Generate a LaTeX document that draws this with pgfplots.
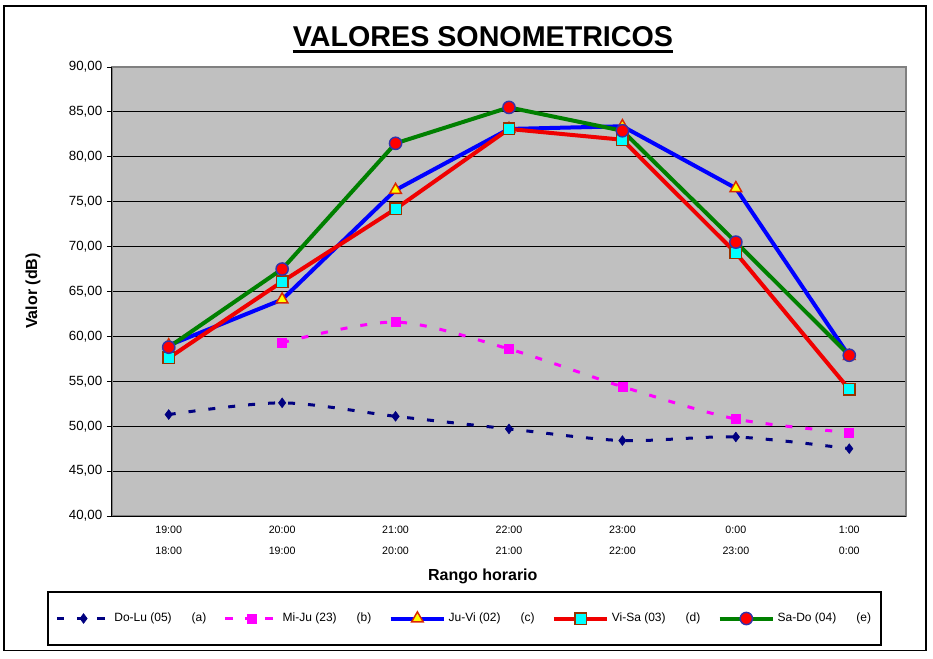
\documentclass[border=0pt]{standalone}
\usepackage{fontspec}
\setmainfont{Liberation Sans}
\usepackage{pgfplots}
\pgfplotsset{compat=1.18}

\definecolor{plotbg}{RGB}{192,192,192}
\definecolor{navyline}{RGB}{0,0,128}
\definecolor{magline}{RGB}{255,0,255}
\definecolor{blueline}{RGB}{0,0,255}
\definecolor{redline}{RGB}{240,0,0}
\definecolor{greenline}{RGB}{0,128,0}
\definecolor{triedge}{RGB}{220,40,0}
\definecolor{trifill}{RGB}{255,255,0}
\definecolor{brownedge}{RGB}{153,51,0}
\definecolor{sqfill}{RGB}{0,255,255}
\definecolor{circfill}{RGB}{255,0,0}
\definecolor{circedge}{RGB}{51,51,170}

\begin{document}
\begin{tikzpicture}
\path[use as bounding box] (0,0) rectangle (699.75pt,493.5pt);
% outer frame
\draw[line width=1pt] (3pt,5.5pt) rectangle (694.5pt,489pt);

\begin{axis}[
    at={(84pt,106.5pt)}, anchor=south west,
    scale only axis, width=595.5pt, height=336.75pt,
    xmin=-0.5, xmax=6.5, ymin=40, ymax=90,
    xtick={0,...,6},
    xticklabels={{19:00\\18:00},{20:00\\19:00},{21:00\\20:00},{22:00\\21:00},
                 {23:00\\22:00},{0:00\\23:00},{1:00\\0:00}},
    x tick label style={align=center, font=\fontsize{8}{15.75}\selectfont},
    major x tick style={draw=none},
    ytick={40,45,...,90},
    ytick pos=left, xtick pos=bottom,
    y tick label style={font=\fontsize{10}{12}\selectfont,
        /pgf/number format/fixed, /pgf/number format/fixed zerofill,
        /pgf/number format/precision=2, /pgf/number format/use comma,
        /pgf/number format/assume math mode=true},
    tick align=outside, major tick length=3.75pt,
    y tick style={black, line width=0.75pt},
    ymajorgrids, grid style={black, line width=0.75pt},
    axis line style={draw=gray, line width=1.5pt},
    axis background/.style={fill=plotbg},
    xlabel={Rango horario},
    xlabel style={at={(axis description cs:0.467,-0.1336)}, anchor=center,
                  font=\fontsize{12}{14}\selectfont\bfseries},
    ylabel={Valor (dB)},
    ylabel style={at={(axis description cs:-0.0995,0.501)}, anchor=center,
                  font=\fontsize{12}{14}\selectfont\bfseries},
    legend columns=10,
    legend style={at={(axis description cs:0.444,-0.2283)}, anchor=center,
                  draw=none, fill=none, font=\fontsize{9}{11}\selectfont,
                  /tikz/every even column/.append style={column sep=11pt}},
    legend image code/.code={\draw[mark repeat=2,mark phase=2,#1]
        plot coordinates {(0pt,0pt) (20pt,0pt) (40pt,0pt)};},
    after end axis/.code={
        \draw[black, line width=0.75pt] (rel axis cs:0,1) -- (rel axis cs:0,0) -- (rel axis cs:1,0);
    },
]
% category separators below the axis
\pgfplotsinvokeforeach{-0.5,0.5,1.5,2.5,3.5,4.5,5.5,6.5}{
    \draw[black, line width=0.75pt] (axis cs:#1,40) -- ++(0pt,-35.25pt);
}

\addplot[navyline, line width=2.25pt, dash pattern=on 5.25pt off 9.75pt, smooth,
         mark=diamond*, mark size=3.6pt,
         mark options={solid, fill=navyline, draw=navyline, line width=0.5pt}]
    coordinates {(0,51.3) (1,52.6) (2,51.1) (3,49.7) (4,48.4) (5,48.8) (6,47.5)};
\addlegendentry{Do-Lu (05)}
\addlegendimage{empty legend}\addlegendentry{(a)}

\addplot[magline, line width=2.25pt, dash pattern=on 5.25pt off 9.75pt, smooth,
         mark=square*, mark size=3.4pt,
         mark options={solid, fill=magline, draw=magline, line width=0.5pt}]
    coordinates {(1,59.3) (2,61.6) (3,58.6) (4,54.4) (5,50.8) (6,49.3)};
\addlegendentry{Mi-Ju (23)}
\addlegendimage{empty legend}\addlegendentry{(b)}

\addplot[blueline, line width=3pt, mark=triangle*, mark size=5pt,
         mark options={fill=trifill, draw=triedge, line width=1.1pt}]
    coordinates {(0,59.0) (1,64.1) (2,76.3) (3,83.1) (4,83.4) (5,76.5) (6,57.8)};
\addlegendentry{Ju-Vi (02)}
\addlegendimage{empty legend}\addlegendentry{(c)}

\addplot[redline, line width=3pt, mark=square*, mark size=4.3pt,
         mark options={fill=sqfill, draw=brownedge, line width=1.1pt}]
    coordinates {(0,57.6) (1,66.1) (2,74.2) (3,83.1) (4,81.9) (5,69.3) (6,54.1)};
\addlegendentry{Vi-Sa (03)}
\addlegendimage{empty legend}\addlegendentry{(d)}

\addplot[greenline, line width=3pt, mark=*, mark size=4.6pt,
         mark options={fill=circfill, draw=circedge, line width=1.1pt}]
    coordinates {(0,58.8) (1,67.5) (2,81.5) (3,85.5) (4,82.9) (5,70.5) (6,57.9)};
\addlegendentry{Sa-Do (04)}
\addlegendimage{empty legend}\addlegendentry{(e)}
\end{axis}

% legend frame
\draw[line width=1pt] (36pt,9.75pt) rectangle (660.75pt,49.5pt);

% title
\node[font=\fontsize{21.5}{24}\selectfont\bfseries, anchor=base, inner sep=0pt] (t)
    at (362.25pt,458.25pt) {VALORES SONOMETRICOS};
\draw[line width=2.25pt] ([yshift=-3.75pt]t.base west) -- ([yshift=-3.75pt]t.base east);
\end{tikzpicture}
\end{document}
